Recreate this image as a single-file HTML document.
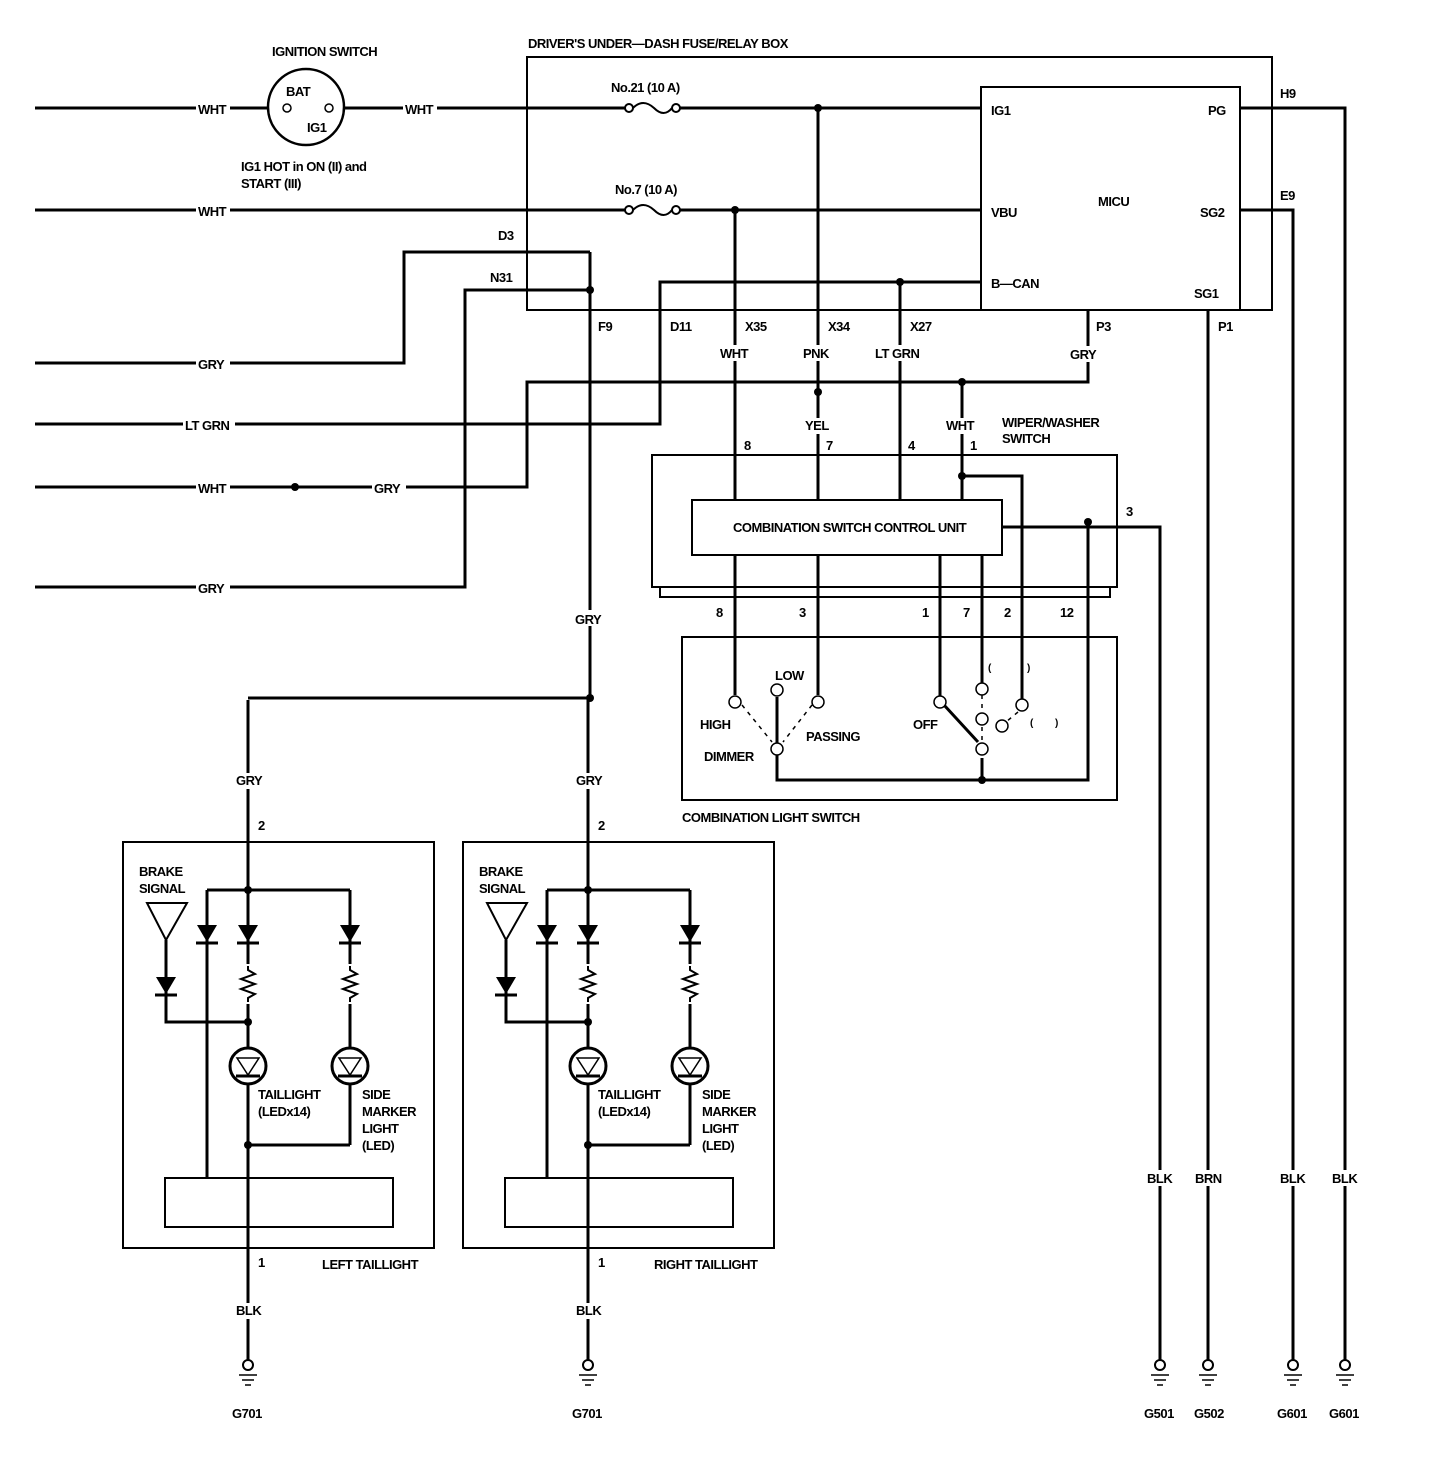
<!DOCTYPE html>
<html><head><meta charset="utf-8"><style>
html,body{margin:0;padding:0;background:#fff;}
svg{display:block}
text{font-family:"Liberation Sans",sans-serif;font-weight:bold;font-size:13px;fill:#000;letter-spacing:-0.5px}
</style></head><body>
<svg width="1440" height="1472" viewBox="0 0 1440 1472" xmlns="http://www.w3.org/2000/svg">
<defs>
<g id="gnd">
<circle cx="0" cy="0" r="5" fill="#fff" stroke="#000" stroke-width="2"/>
<line x1="-9" y1="10" x2="9" y2="10" stroke="#000" stroke-width="1.5"/>
<line x1="-6" y1="15" x2="6" y2="15" stroke="#000" stroke-width="1.5"/>
<line x1="-3" y1="20" x2="3" y2="20" stroke="#000" stroke-width="1.5"/>
</g>
<g id="diode">
<polygon points="-10,-16 10,-16 0,1" fill="#000"/>
<line x1="-11" y1="2" x2="11" y2="2" stroke="#000" stroke-width="3"/>
</g>
<g id="res">
<polyline points="0,-18 0,-14 7,-10 -7,-5 7,0 -7,5 7,10 0,14 0,18" fill="none" stroke="#000" stroke-width="2"/>
</g>
<g id="led">
<circle cx="0" cy="0" r="18" fill="#fff" stroke="#000" stroke-width="3"/>
<polygon points="-11,-8 11,-8 0,9" fill="none" stroke="#000" stroke-width="1.5"/>
<line x1="-12" y1="10" x2="12" y2="10" stroke="#000" stroke-width="3"/>
</g>
<g id="tail">
<rect x="123" y="842" width="311" height="406" fill="none" stroke="#000" stroke-width="2"/>
<g stroke="#000" stroke-width="3" fill="none">
<line x1="248" y1="700" x2="248" y2="1360"/>
<line x1="207" y1="890" x2="350" y2="890"/>
<line x1="207" y1="890" x2="207" y2="1178"/>
<line x1="350" y1="890" x2="350" y2="1145"/>
<line x1="248" y1="1145" x2="350" y2="1145"/>
<polyline points="166,940 166,1022 248,1022"/>
<rect x="165" y="1178" width="228" height="49" stroke-width="2"/>
</g>
<polygon points="147,903 187,903 166,940" fill="#fff" stroke="#000" stroke-width="2"/>
<use href="#diode" x="207" y="941"/>
<use href="#diode" x="248" y="941"/>
<use href="#diode" x="350" y="941"/>
<use href="#diode" x="166" y="993"/>
<rect x="240" y="964" width="16" height="40" fill="#fff"/>
<rect x="342" y="964" width="16" height="40" fill="#fff"/>
<use href="#res" x="248" y="984"/>
<use href="#res" x="350" y="984"/>
<use href="#led" x="248" y="1066"/>
<use href="#led" x="350" y="1066"/>
<circle cx="248" cy="890" r="4"/><circle cx="248" cy="1022" r="4"/><circle cx="248" cy="1145" r="4"/>
<rect x="234" y="773" width="30" height="16" fill="#fff"/>
<rect x="234" y="1303" width="30" height="16" fill="#fff"/>
<text x="139" y="876">BRAKE</text><text x="139" y="893">SIGNAL</text>
<text x="258" y="1099">TAILLIGHT</text><text x="258" y="1116">(LEDx14)</text>
<text x="362" y="1099">SIDE</text><text x="362" y="1116">MARKER</text><text x="362" y="1133">LIGHT</text><text x="362" y="1150">(LED)</text>
<text x="258" y="830">2</text><text x="258" y="1267">1</text>
<text x="236" y="785">GRY</text><text x="236" y="1315">BLK</text>
<use href="#gnd" x="248" y="1365"/>
<text x="232" y="1418">G701</text>
</g>
</defs>

<use href="#tail"/>
<use href="#tail" x="340"/>
<text x="322" y="1269">LEFT TAILLIGHT</text>
<text x="654" y="1269">RIGHT TAILLIGHT</text>

<g stroke="#000" stroke-width="3" fill="none">
<rect x="527" y="57" width="745" height="253" stroke-width="2"/>
<rect x="981" y="87" width="259" height="223" stroke-width="2"/>
<line x1="35" y1="108" x2="268" y2="108"/>
<line x1="344" y1="108" x2="625" y2="108"/>
<line x1="680" y1="108" x2="981" y2="108"/>
<line x1="35" y1="210" x2="625" y2="210"/>
<line x1="680" y1="210" x2="981" y2="210"/>
<polyline points="981,282 660,282 660,424 35,424"/>
<polyline points="590,252 404,252 404,363 35,363"/>
<polyline points="590,290 465,290 465,587 35,587"/>
<line x1="590" y1="252" x2="590" y2="700"/>
<polyline points="248,698 590,698"/>
<line x1="735" y1="210" x2="735" y2="500"/>
<line x1="818" y1="108" x2="818" y2="500"/>
<line x1="900" y1="282" x2="900" y2="500"/>
<polyline points="1088,310 1088,382 527,382 527,487 35,487"/>
<line x1="962" y1="382" x2="962" y2="500"/>
<polyline points="962,476 1022,476 1022,703"/>
<rect x="652" y="455" width="465" height="132" stroke-width="2"/>
<rect x="692" y="500" width="310" height="55" stroke-width="2"/>
<polyline points="660,587 660,597 1110,597 1110,587" stroke-width="2"/>
<rect x="682" y="637" width="435" height="163" stroke-width="2"/>
<polyline points="1002,527 1160,527 1160,1360"/>
<polyline points="1088,522 1088,780 982,780"/>
<line x1="735" y1="555" x2="735" y2="695"/>
<line x1="818" y1="555" x2="818" y2="695"/>
<line x1="940" y1="555" x2="940" y2="697"/>
<line x1="982" y1="555" x2="982" y2="684"/>
<polyline points="1240,108 1345,108 1345,1360"/>
<polyline points="1240,210 1293,210 1293,1360"/>
<line x1="1208" y1="310" x2="1208" y2="1360"/>
<line x1="777" y1="697" x2="777" y2="745"/>
<polyline points="777,755 777,780 982,780 982,758"/>
<line x1="944" y1="705" x2="978" y2="742"/>
</g>
<g stroke="#000" stroke-width="1.5" stroke-dasharray="4,5">
<line x1="742" y1="705" x2="772" y2="742"/>
<line x1="812" y1="705" x2="783" y2="742"/>
<line x1="982" y1="695" x2="982" y2="712"/>
<line x1="982" y1="727" x2="982" y2="742"/>
<line x1="1018" y1="712" x2="1000" y2="727"/>
</g>
<g fill="#fff" stroke="#000" stroke-width="1.5">
<circle cx="735" cy="702" r="6"/><circle cx="777" cy="690" r="6"/><circle cx="818" cy="702" r="6"/>
<circle cx="777" cy="749" r="6"/>
<circle cx="940" cy="702" r="6"/><circle cx="982" cy="689" r="6"/><circle cx="1022" cy="705" r="6"/>
<circle cx="982" cy="719" r="6"/><circle cx="1002" cy="726" r="6"/><circle cx="982" cy="749" r="6"/>
<circle cx="306" cy="107" r="38" stroke-width="2.5"/>
<circle cx="287" cy="108" r="4"/><circle cx="329" cy="108" r="4"/>
</g>
<g fill="none" stroke="#000" stroke-width="2">
<circle cx="629" cy="108" r="4"/><circle cx="676" cy="108" r="4"/>
<path d="M633,108 q10,-10 21,0 q10,10 18,0"/>
<circle cx="629" cy="210" r="4"/><circle cx="676" cy="210" r="4"/>
<path d="M633,210 q10,-10 21,0 q10,10 18,0"/>
</g>
<g fill="#000">
<circle cx="818" cy="108" r="4"/><circle cx="735" cy="210" r="4"/><circle cx="900" cy="282" r="4"/>
<circle cx="590" cy="290" r="4"/><circle cx="590" cy="698" r="4"/><circle cx="818" cy="392" r="4"/>
<circle cx="962" cy="382" r="4"/><circle cx="962" cy="476" r="4"/><circle cx="1088" cy="522" r="4"/>
<circle cx="982" cy="780" r="4"/><circle cx="295" cy="487" r="4"/>
</g>
<g fill="#fff">
<rect x="196" y="100" width="34" height="16"/><rect x="403" y="100" width="34" height="16"/>
<rect x="196" y="202" width="34" height="16"/>
<rect x="196" y="355" width="34" height="16"/><rect x="183" y="416" width="52" height="16"/>
<rect x="196" y="479" width="34" height="16"/><rect x="372" y="479" width="34" height="16"/>
<rect x="196" y="579" width="34" height="16"/>
<rect x="573" y="610" width="34" height="16"/>
<rect x="718" y="345" width="34" height="16"/><rect x="801" y="345" width="34" height="16"/>
<rect x="873" y="345" width="54" height="16"/><rect x="1068" y="346" width="34" height="16"/>
<rect x="944" y="418" width="34" height="16"/><rect x="803" y="418" width="30" height="16"/>
<rect x="1143" y="1170" width="34" height="16"/><rect x="1193" y="1170" width="34" height="16"/>
<rect x="1276" y="1170" width="34" height="16"/><rect x="1328" y="1170" width="34" height="16"/>
<rect x="695" y="508" width="300" height="40"/>
</g>
<rect x="692" y="500" width="310" height="55" fill="none" stroke="#000" stroke-width="2"/>
<g>
<text x="272" y="56">IGNITION SWITCH</text>
<text x="286" y="96">BAT</text><text x="307" y="132">IG1</text>
<text x="241" y="171">IG1 HOT in ON (II) and</text><text x="241" y="188">START (III)</text>
<text x="198" y="114">WHT</text><text x="405" y="114">WHT</text><text x="198" y="216">WHT</text>
<text x="198" y="369">GRY</text><text x="185" y="430">LT GRN</text>
<text x="198" y="493">WHT</text><text x="374" y="493">GRY</text><text x="198" y="593">GRY</text>
<text x="575" y="624">GRY</text>
<text x="528" y="48">DRIVER'S UNDER—DASH FUSE/RELAY BOX</text>
<text x="611" y="92">No.21 (10 A)</text><text x="615" y="194">No.7 (10 A)</text>
<text x="991" y="115">IG1</text><text x="991" y="217">VBU</text><text x="991" y="288">B—CAN</text>
<text x="1098" y="206">MICU</text>
<text x="1208" y="115">PG</text><text x="1200" y="217">SG2</text><text x="1194" y="298">SG1</text>
<text x="1280" y="98">H9</text><text x="1280" y="200">E9</text>
<text x="498" y="240">D3</text><text x="490" y="282">N31</text>
<text x="598" y="331">F9</text><text x="670" y="331">D11</text><text x="745" y="331">X35</text>
<text x="828" y="331">X34</text><text x="910" y="331">X27</text><text x="1096" y="331">P3</text>
<text x="1218" y="331">P1</text>
<text x="720" y="358">WHT</text><text x="803" y="358">PNK</text><text x="875" y="358">LT GRN</text>
<text x="1070" y="359">GRY</text>
<text x="805" y="430">YEL</text><text x="946" y="430">WHT</text>
<text x="1002" y="427">WIPER/WASHER</text><text x="1002" y="443">SWITCH</text>
<text x="744" y="450">8</text><text x="826" y="450">7</text><text x="908" y="450">4</text><text x="970" y="450">1</text>
<text x="1126" y="516">3</text>
<text x="733" y="532">COMBINATION SWITCH CONTROL UNIT</text>
<text x="716" y="617">8</text><text x="799" y="617">3</text><text x="922" y="617">1</text><text x="963" y="617">7</text>
<text x="1004" y="617">2</text><text x="1060" y="617">12</text>
<text x="775" y="680">LOW</text><text x="700" y="729">HIGH</text><text x="806" y="741">PASSING</text>
<text x="704" y="761">DIMMER</text><text x="913" y="729">OFF</text>
<text x="988" y="671" style="font-size:10px">(</text><text x="1027" y="671" style="font-size:10px">)</text>
<text x="1030" y="726" style="font-size:10px">(</text><text x="1055" y="726" style="font-size:10px">)</text>
<text x="682" y="822">COMBINATION LIGHT SWITCH</text>
<text x="1147" y="1183">BLK</text><text x="1195" y="1183">BRN</text><text x="1280" y="1183">BLK</text><text x="1332" y="1183">BLK</text>
<text x="1144" y="1418">G501</text><text x="1194" y="1418">G502</text><text x="1277" y="1418">G601</text><text x="1329" y="1418">G601</text>
</g>
<use href="#gnd" x="1160" y="1365"/><use href="#gnd" x="1208" y="1365"/>
<use href="#gnd" x="1293" y="1365"/><use href="#gnd" x="1345" y="1365"/>
</svg>
</body></html>
